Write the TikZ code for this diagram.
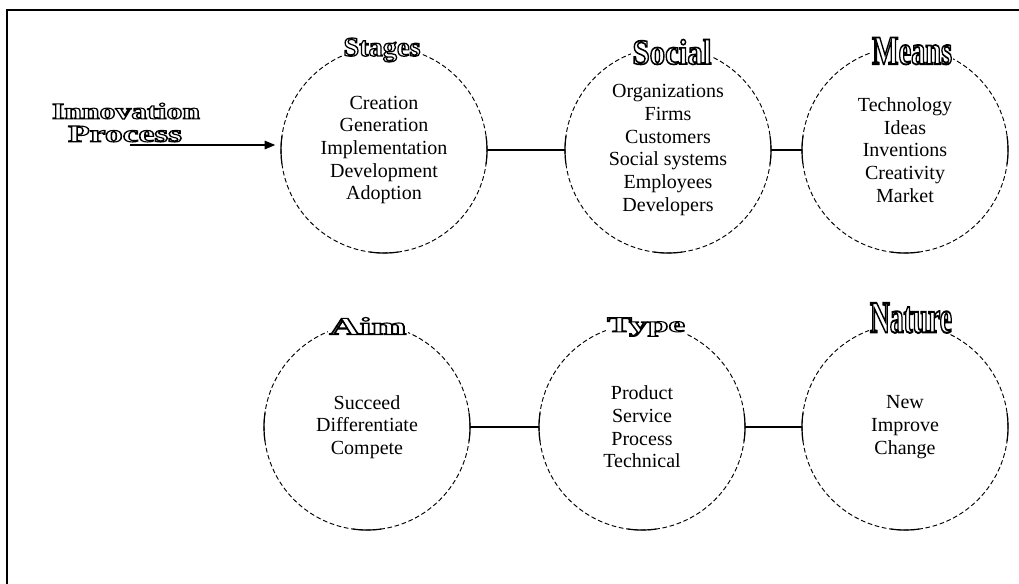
\documentclass[tikz,border=0pt]{standalone}
\usepackage{fontspec}
\setmainfont{Liberation Serif}
\usetikzlibrary{arrows.meta}
% hollow (outlined) heading text stretched into a box of given width and total height
\newcommand\wordart[3]{\resizebox*{#1}{#2}{\fontsize{20pt}{24pt}\selectfont\bfseries
  \special{pdf:code q 1 Tr 0.9 w}#3\special{pdf:code Q}}}
\begin{document}
\begin{tikzpicture}[x=0.75pt, y=-0.75pt,
  ring/.style={circle, draw, line width=0.7pt, dash pattern=on 3.5pt off 2pt,
    minimum size=154.5pt, inner sep=0pt, align=center,
    font=\fontsize{15pt}{17pt}\selectfont},
  heading/.style={fill=white, inner sep=1pt},
  label/.style={inner sep=0pt},
  link/.style={line width=1.1pt},
  frame/.style={line width=1.5pt}]
\clip (0,0) rectangle (1019,583);

% outer frame
\draw[frame] (6.5,600) |- (1040,10);

% circles
\node[ring] (stages) at (384,150) {Creation\\Generation\\Implementation\\Development\\Adoption};
\node[ring] (social) at (668,150) {Organizations\\Firms\\Customers\\Social systems\\Employees\\Developers};
\node[ring] (means)  at (905,150) {Technology\\Ideas\\Inventions\\Creativity\\Market};
\node[ring] (aim)    at (367,427) {Succeed\\Differentiate\\Compete};
\node[ring] (type)   at (642,427) {Product\\Service\\Process\\Technical};
\node[ring] (nature) at (905,427) {New\\Improve\\Change};

% solid pieces of the outline at the sides and the bottom
\foreach \n in {stages,social,means,aim,type,nature}
  \foreach \a in {0,180,270}
    \draw[line width=0.9pt] ([shift={(\a-8:77.25pt)}]\n.center)
      arc[start angle=\a-8, end angle=\a+8, radius=77.25pt];

% headings
\node[heading] (hstages) at (382,50)  {\wordart{57.75pt}{18pt}{Stages}};
\node[heading] (hsocial) at (672,52)  {\wordart{59.25pt}{18.75pt}{Social}};
\node[heading] (hmeans)  at (912,51)  {\wordart{60pt}{20.25pt}{Means}};
\node[heading] (haim)    at (368,326) {\wordart{57.75pt}{12.75pt}{Aim}};
\node[heading] (htype)   at (646,327) {\wordart{58.5pt}{14.25pt}{Type}};
\node[heading] (hnature) at (911,318) {\wordart{61.5pt}{22.5pt}{Nature}};

% process label and arrow
\node[label] (innov) at (126,111) {\wordart{111pt}{12pt}{Innovation}};
\node[label] (proc)  at (125,134) {\wordart{85.5pt}{12pt}{Process}};
\coordinate (arrowstart) at (130,145);
\draw[link, line width=0.8pt, -{Triangle[length=8pt,width=6.5pt]}, shorten >=4pt]
  (arrowstart) -- (arrowstart -| stages.west);

% connectors
\draw[link] (stages) -- (social);
\draw[link] (social) -- (means);
\draw[link] (aim) -- (type);
\draw[link] (type) -- (nature);
\end{tikzpicture}
\end{document}
